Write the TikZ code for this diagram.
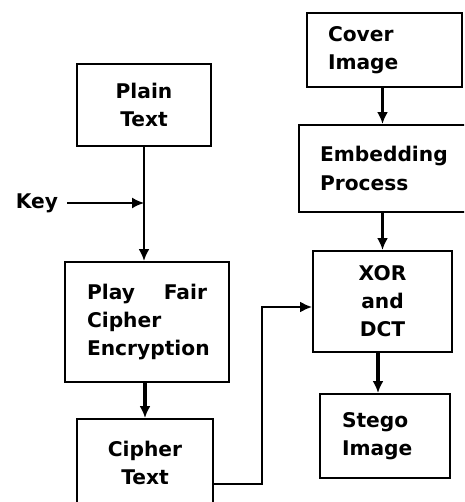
\documentclass[tikz,border=0pt]{standalone}
\usepackage{fontspec}
\setmainfont{DejaVu Sans}
\usetikzlibrary{arrows.meta}

\tikzset{
	blk/.style={rectangle,draw,line width=1.1pt,inner sep=0pt,
		font=\fontsize{11.5}{16}\selectfont\bfseries},
	tip/.style={-{Latex[length=2.4mm,width=2.2mm]}},
	flow/.style={line width=2pt,tip},
}

\begin{document}
\begin{tikzpicture}[x=0.02cm,y=-0.02cm]
		\useasboundingbox (0,0) rectangle (464,502);
		\clip (0,0) rectangle (464,502);
%		\draw[help lines] (0,0) grid (464,502);
		\path (144,105) coordinate (plain_c);
		\path (147,322) coordinate (play_c);
		\path (145,463) coordinate (cipher_c);
		\path (37,203) coordinate (key_c);

		\path (384.5,50) coordinate (cover_c);
		\path (385.5,168.5) coordinate (embed_c);
		\path (382.5,301.5) coordinate (xor_c);
		\path (385,436) coordinate (stego_c);

		% left column
		\node (plain) at (plain_c) [blk,minimum width=2.68cm,minimum height=1.64cm,align=center] {Plain\\Text};
		\node (play) at (play_c) [blk,minimum width=3.28cm,minimum height=2.4cm,text width=2.4cm,align=left] {Play\hfill Fair\\Cipher\\Encryption};
		\node (cipher) at (cipher_c) [blk,minimum width=2.72cm,minimum height=1.76cm,align=center] {Cipher\\Text};
		\node (key) at (key_c) [inner ysep=0pt,inner xsep=5pt,font=\fontsize{11.5}{16}\selectfont\bfseries] {Key};

		% right column
		\node (cover) at (cover_c) [blk,minimum width=3.1cm,minimum height=1.48cm,text width=2.26cm,align=left] {Cover\\Image};
		\node (embed) at (embed_c) [blk,minimum width=3.46cm,minimum height=1.74cm,text width=2.62cm,align=left] {Embedding\\Process};
		\node (xor) at (xor_c) [blk,minimum width=2.78cm,minimum height=2.02cm,align=center] {XOR\\and\\DCT};
		\node (stego) at (stego_c) [blk,minimum width=2.6cm,minimum height=1.68cm,text width=1.72cm,align=left] {Stego\\Image};

		\draw[line width=1.4pt,tip] (plain.south) -- (plain.south |- play.north);
		\draw[line width=0.9pt,tip] (key.east) -- (key -| plain.south);
		\draw[flow] (play.south -| cipher) -- (cipher.north);

		\draw[flow] (cover.south -| xor) -- (embed.north -| xor);
		\draw[flow] (embed.south -| xor) -- (xor.north);
		\draw[flow] ([xshift=-0.09cm]xor.south) -- ([xshift=-0.09cm]xor.south |- stego.north);

		\draw[line width=1.2pt,tip] ([yshift=-0.42cm]cipher.east) -- ++(48,0) |- ([yshift=-0.11cm]xor.west);
	\end{tikzpicture}
\end{document}
